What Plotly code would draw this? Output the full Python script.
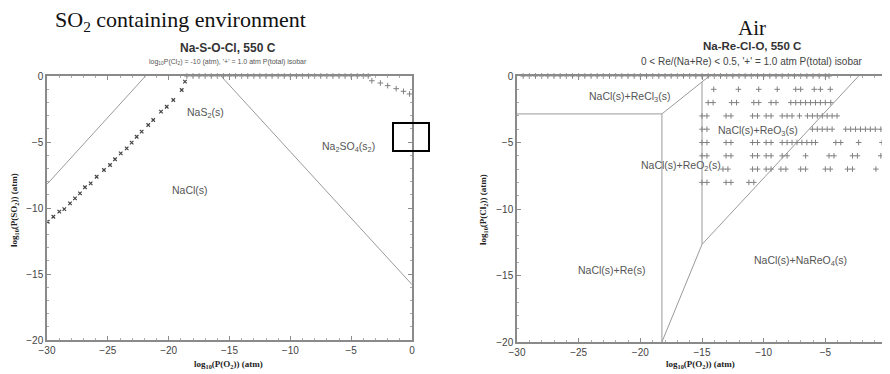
import plotly.graph_objects as go

# page body has an 8px margin: the figure is sized to fill the rest of the window
OFF = 8
W, H = 890 - OFF, 374 - OFF

# ---------------- Left diagram: Na-S-O-Cl ----------------
left_line1_x = [-30, -21.9]
left_line1_y = [-8.2, 0]
left_line2_x = [-15.7, 0]
left_line2_y = [0, -15.8]

left_xmark_x = [-29.94, -29.48, -28.99, -28.58, -28.11, -27.7, -27.29, -26.88, -26.41, -25.92,
                -25.32, -24.82, -24.41, -23.94, -23.45, -23.04, -22.63, -22.22, -21.68, -21.27,
                -20.63, -20.16, -19.62, -18.93, -18.66]
left_xmark_y = [-11.04, -10.66, -10.28, -10.08, -9.65, -9.27, -8.89, -8.43, -8.13, -7.63,
                -7.12, -6.74, -6.31, -5.86, -5.48, -5.05, -4.6, -4.22, -3.71, -3.33,
                -2.7, -2.33, -1.82, -1.06, -0.43]

left_plus_x = [-18.5, -18.0, -17.5, -17.0, -16.5, -16.0, -15.5, -15.0, -14.5, -14.0, -13.5,
               -13.0, -12.5, -12.0, -11.5, -11.0, -10.5, -10.0, -9.5, -9.0, -8.5, -8.0,
               -7.5, -7.0, -6.5, -6.0, -5.5, -5.0, -4.5, -4.0, -3.6,
               -3.3, -2.6, -2.0, -1.3, -0.7, -0.2]
left_plus_y = [0] * 31 + [-0.36, -0.53, -0.73, -0.96, -1.16, -1.36]

left_labels = ["NaS<sub>2</sub>(s)", "NaCl(s)", "Na<sub>2</sub>SO<sub>4</sub>(s<sub>2</sub>)"]
left_label_x = [-17.0, -18.25, -5.24]
left_label_y = [-2.8, -8.6, -5.4]

# ---------------- Right diagram: Na-Re-Cl-O ----------------
right_b1_x = [-30, -18.25, -14.4]
right_b1_y = [-2.85, -2.85, 0]
right_b2_x = [-18.25, -18.25]
right_b2_y = [-2.85, -20]
right_b3_x = [-15, -15]
right_b3_y = [-0.44, -12.66]
right_b4_x = [-18.25, -15, -2.3]
right_b4_y = [-20, -12.66, 0]

row0_x = [-29.5, -29.0, -28.5, -28.0, -27.5, -27.0, -26.5, -26.0, -25.5, -25.0, -24.5, -24.0,
          -23.5, -23.0, -22.5, -22.0, -21.5, -21.0, -20.5, -20.0, -19.5, -19.0, -18.5, -18.0,
          -17.5, -17.0, -16.5, -16.0, -15.5, -15.0, -14.5, -14.0, -13.5, -13.0, -12.5, -12.0,
          -11.5, -11.0, -10.5, -10.0, -9.5, -9.0, -8.5, -8.0, -7.5, -7.0, -6.5, -6.0, -5.5,
          -5.0, -4.7]
row1_x = [-14.05, -12.05, -10.4, -8.9, -7.4, -7.0, -5.9, -5.4, -4.6]
row2_x = [-14.5, -14.1, -12.6, -12.2, -10.8, -10.4, -9.4, -9.0, -7.8, -7.4, -7.0, -6.6,
          -6.2, -5.8, -5.4, -5.0, -4.56]
row3_x = [-15.0, -14.6, -13.05, -12.65, -10.9, -10.5, -9.8, -9.4, -8.5, -8.1, -7.7, -7.1,
          -6.45, -6.05, -5.65, -5.25, -4.85, -4.45, -4.05]
row4_x = [-15.0, -14.6, -6.05, -5.65, -5.25, -4.85, -4.45, -3.35, -2.95, -2.55, -2.15,
          -1.75, -1.35, -0.95, -0.5]
row5_x = [-15.0, -14.6, -13.05, -12.65, -10.9, -10.5, -9.8, -9.4, -8.5, -8.1, -7.7, -7.3,
          -6.9, -6.5, -6.1, -5.8, -4.15, -3.75, -2.3, -0.4]
row6_x = [-15.0, -14.6, -13.05, -12.65, -10.9, -10.5, -9.8, -9.4, -8.5, -8.1, -6.6, -4.7,
          -4.3, -2.8, -2.4, -0.5]
row7_x = [-13.3, -12.9, -10.9, -10.5, -9.8, -9.4, -8.6, -8.2, -7.0, -6.6, -5.0, -4.6,
          -3.2, -2.8, -0.9]
row8_x = [-15.0, -14.6, -13.05, -12.65, -11.2, -10.8]
row_levels = [0, -1, -2, -3, -4, -5, -6, -7, -8]

right_labels = ["NaCl(s)+ReCl<sub>3</sub>(s)", "NaCl(s)+ReO<sub>3</sub>(s)",
                "NaCl(s)+ReO<sub>2</sub>(s)", "NaCl(s)+NaReO<sub>4</sub>(s)", "NaCl(s)+Re(s)"]
right_label_x = [-20.9, -10.5, -16.7, -7.0, -22.3]
right_label_y = [-1.55, -4.1, -6.8, -13.9, -14.6]

x_ticks = [-30, -25, -20, -15, -10, -5, 0]
y_ticks = [0, -5, -10, -15, -20]

# ---------------- Figure ----------------
LINE_C = "#9a9a9a"
MARK_C = "#808080"
fig = go.Figure()

fig.add_trace(go.Scatter(x=left_line1_x, y=left_line1_y, mode="lines",
                         line=dict(color=LINE_C, width=1), xaxis="x", yaxis="y"))
fig.add_trace(go.Scatter(x=left_line2_x, y=left_line2_y, mode="lines",
                         line=dict(color=LINE_C, width=1), xaxis="x", yaxis="y"))
fig.add_trace(go.Scatter(x=left_xmark_x, y=left_xmark_y, mode="markers",
                         marker=dict(symbol="x-thin-open", size=3.5, color="#444",
                                     line=dict(width=1.2, color="#444")),
                         xaxis="x", yaxis="y", cliponaxis=False))
fig.add_trace(go.Scatter(x=left_plus_x, y=left_plus_y, mode="markers",
                         marker=dict(symbol="cross-thin-open", size=4, color=MARK_C,
                                     line=dict(width=1, color=MARK_C)),
                         xaxis="x", yaxis="y", cliponaxis=False))

for bx, by in [(right_b1_x, right_b1_y), (right_b2_x, right_b2_y),
               (right_b3_x, right_b3_y), (right_b4_x, right_b4_y)]:
    fig.add_trace(go.Scatter(x=bx, y=by, mode="lines",
                             line=dict(color=LINE_C, width=1), xaxis="x2", yaxis="y2"))

rows = [row0_x, row1_x, row2_x, row3_x, row4_x, row5_x, row6_x, row7_x, row8_x]
px_all, py_all = [], []
for lvl, xs in zip(row_levels, rows):
    px_all += xs
    py_all += [lvl] * len(xs)
fig.add_trace(go.Scatter(x=px_all, y=py_all, mode="markers",
                         marker=dict(symbol="cross-thin-open", size=4, color=MARK_C,
                                     line=dict(width=1, color=MARK_C)),
                         xaxis="x2", yaxis="y2", cliponaxis=False))

def px2paper_x(p):
    return (p - OFF) / W

def px2paper_y(p):
    return 1 - (p - OFF) / H

axis_common = dict(showgrid=False, zeroline=False, showline=True, linecolor="#8a8a8a",
                   linewidth=1.5, mirror="allticks", ticks="inside", ticklen=4,
                   tickcolor="#8a8a8a", tickwidth=1, automargin=False,
                   tickfont=dict(family="Liberation Sans, Arial", size=10, color="#444"),
                   minor=dict(ticks="inside", ticklen=2, tickcolor="#aaaaaa", dtick=1))

fig.update_layout(
    width=W, height=H, margin=dict(l=0, r=0, t=0, b=0, autoexpand=False),
    paper_bgcolor="white", plot_bgcolor="white", showlegend=False,
    xaxis=dict(domain=[px2paper_x(47), px2paper_x(412)], range=[-30, 0],
               tickvals=x_ticks, anchor="y", **axis_common),
    yaxis=dict(domain=[px2paper_y(340), px2paper_y(76)], range=[-20, 0],
               tickvals=y_ticks, anchor="x", **axis_common),
    xaxis2=dict(domain=[px2paper_x(517), px2paper_x(887)], range=[-30, 0],
                tickvals=x_ticks, anchor="y2", **axis_common),
    yaxis2=dict(domain=[px2paper_y(342), px2paper_y(76)], range=[-20, 0],
                tickvals=y_ticks, anchor="x2", **axis_common),
)

def paper_note(text, px, py, font, angle=0):
    return dict(text=text, x=px2paper_x(px), y=px2paper_y(py), xref="paper", yref="paper",
                xanchor="center", yanchor="middle", showarrow=False, textangle=angle, font=font)

ann = []
head_font = dict(family="Liberation Serif, Times New Roman", size=22, color="#111")
ann.append(paper_note("SO<sub>2</sub> containing environment", 180, 21, head_font))
ann.append(paper_note("Air", 752, 28, dict(family="Liberation Serif, Times New Roman",
                                           size=21, color="#111")))

title_font = dict(family="Liberation Sans, Arial", size=12, color="#333")
ann.append(paper_note("<b>Na-S-O-Cl, 550 C</b>", 228, 48, title_font))
ann.append(paper_note("<b>Na-Re-Cl-O, 550 C</b>", 752, 46, dict(family="Liberation Sans, Arial",
                                                                 size=11.5, color="#333")))
ann.append(paper_note("log<sub>10</sub>P(Cl<sub>2</sub>) = -10 (atm), '+' = 1.0 atm P(total) isobar",
                      228, 62, dict(family="Liberation Sans, Arial", size=7, color="#555")))
ann.append(paper_note("0 &lt; Re/(Na+Re) &lt; 0.5, '+' = 1.0 atm P(total) isobar",
                      752, 61, dict(family="Liberation Sans, Arial", size=10, color="#444")))

axis_font = dict(family="Liberation Serif, Times New Roman", size=9, color="#222")
ann.append(paper_note("<b>log<sub>10</sub>(P(O<sub>2</sub>)) (atm)</b>", 229, 364, axis_font))
ann.append(paper_note("<b>log<sub>10</sub>(P(O<sub>2</sub>)) (atm)</b>", 700, 364, axis_font))
ann.append(paper_note("<b>log<sub>10</sub>(P(SO<sub>2</sub>)) (atm)</b>", 15, 210, axis_font, -90))
ann.append(paper_note("<b>log<sub>10</sub>(P(Cl<sub>2</sub>)) (atm)</b>", 484, 210, axis_font, -90))

lab_font = dict(family="Liberation Sans, Arial", size=10.5, color="#555")
for t, x, y in zip(left_labels, left_label_x, left_label_y):
    ann.append(dict(text=t, x=x, y=y, xref="x", yref="y", showarrow=False, font=lab_font))
for t, x, y in zip(right_labels, right_label_x, right_label_y):
    ann.append(dict(text=t, x=x, y=y, xref="x2", yref="y2", showarrow=False, font=lab_font))

fig.update_layout(annotations=ann)

# highlight box drawn on the left diagram's right edge
fig.add_shape(type="rect", xref="paper", yref="paper",
              x0=px2paper_x(393), x1=px2paper_x(429), y0=px2paper_y(151), y1=px2paper_y(123),
              line=dict(color="black", width=2), fillcolor="rgba(0,0,0,0)")

fig.write_html("out.html")
